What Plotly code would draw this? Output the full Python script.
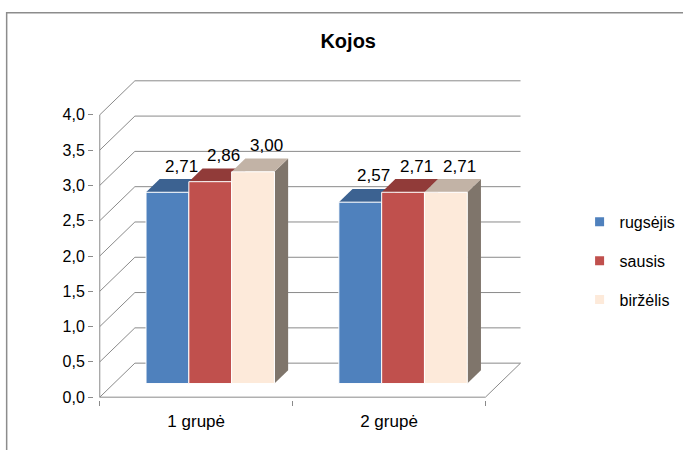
import plotly.graph_objects as go

# Chart data
groups = ["1 grupė", "2 grupė"]
series = ["rugsėjis", "sausis", "biržėlis"]
rugsejis = [2.71, 2.57]
sausis = [2.86, 2.71]
birzelis = [3.00, 2.71]
y_ticks = [0.0, 0.5, 1.0, 1.5, 2.0, 2.5, 3.0, 3.5, 4.0]

series_values = [rugsejis, sausis, birzelis]

# Face colours per series: front, top, side
front_col = ["#4F81BD", "#C0504D", "#FDEADA"]
top_col = ["#3C6291", "#913B39", "#C2B3A6"]
side_col = ["#2F4C72", "#72302E", "#7F756B"]

# Oblique projection: one full unit of depth shifts x by DX and y by DY
DX = 0.182
DY = 0.482
D0, D1 = 0.40, 0.79          # front and back depth of the bars
BAR_W = 0.222
GRID = "#8A8A8A"
FONT = "Liberation Sans, Arial, sans-serif"

fig = go.Figure()


def poly(xs, ys, color, line_color=None, width=0):
    fig.add_trace(go.Scatter(
        x=xs + [xs[0]], y=ys + [ys[0]], mode="lines", fill="toself",
        fillcolor=color,
        line=dict(color=line_color or color, width=width),
        hoverinfo="skip", showlegend=False))


def line(xs, ys):
    fig.add_trace(go.Scatter(x=xs, y=ys, mode="lines",
                             line=dict(color=GRID, width=1),
                             hoverinfo="skip", showlegend=False))


# Walls: gridlines run along the left wall and across the back wall
for v in y_ticks:
    line([0, DX, len(groups) + DX], [v, v + DY, v + DY])
line([len(groups), len(groups) + DX], [0, DY])
line([0, len(groups)], [0, 0])
line([0, 0], [0, y_ticks[-1]])

# Bars: side, top and front faces, drawn left to right
sx, sy = D0 * DX, D0 * DY
ex, ey = D1 * DX, D1 * DY
annotations = []
for gi in range(len(groups)):
    center = gi + 0.5
    for si, vals in enumerate(series_values):
        v = vals[gi]
        xl = center + (si - 1.5) * BAR_W
        xr = xl + BAR_W
        poly([xr + sx, xr + ex, xr + ex, xr + sx],
             [sy, ey, ey + v, sy + v], side_col[si])
        poly([xl + sx, xr + sx, xr + ex, xl + ex],
             [sy + v, sy + v, ey + v, ey + v], top_col[si])
        poly([xl + sx, xr + sx, xr + sx, xl + sx],
             [sy, sy, sy + v, sy + v], front_col[si], "white", 1)
        annotations.append(dict(
            x=(xl + xr) / 2 + ex, y=ey + v, xref="x", yref="y",
            text=f"{v:.2f}".replace(".", ","), showarrow=False,
            yanchor="middle", yshift=13,
            font=dict(family=FONT, size=17, color="black")))

# Legend entries
for si, name in enumerate(series):
    fig.add_trace(go.Scatter(
        x=[None], y=[None], mode="markers", name=name, legendgroup=name,
        marker=dict(symbol="square", size=9, color=front_col[si])))

# Outer chart frame
L, T, W, H = 94.2, 76.2, 429.3, 323.6


def px_x(p):
    return (p - L) / W


def px_y(p):
    return (T + H - p) / H


fig.add_shape(type="rect", xref="paper", yref="paper",
              x0=px_x(7), y0=px_y(13), x1=px_x(700), y1=px_y(470),
              line=dict(color="#8C8C8C", width=1.5), fillcolor="rgba(0,0,0,0)")

fig.update_layout(
    width=683, height=450,
    margin=dict(l=L, r=683 - L - W, t=T, b=450 - T - H, autoexpand=False),
    paper_bgcolor="white", plot_bgcolor="white",
    separators=",.",
    title=dict(text="<b>Kojos</b>", x=px_x(348), xanchor="center",
               xref="paper", y=1 - 41 / 450, yanchor="middle",
               font=dict(family=FONT, size=20, color="black")),
    font=dict(family=FONT, size=16, color="black"),
    annotations=annotations,
    showlegend=True,
    legend=dict(x=px_x(579), y=px_y(205), xanchor="left", yanchor="top",
                traceorder="grouped", tracegroupgap=15,
                font=dict(family=FONT, size=16, color="black"),
                bgcolor="rgba(0,0,0,0)"),
    xaxis=dict(range=[-0.03, 2.2], showgrid=False, zeroline=False,
               showline=False, tickmode="array",
               tickvals=[g + 0.5 for g in range(len(groups))],
               ticktext=groups, ticks="outside", ticklen=6,
               tickcolor="rgba(0,0,0,0)",
               tickfont=dict(family=FONT, size=17, color="black"),
               minor=dict(tickmode="array",
                          tickvals=list(range(len(groups) + 1)),
                          ticks="outside", ticklen=5, tickcolor=GRID,
                          showgrid=False),
               fixedrange=True),
    yaxis=dict(range=[-0.04, 4.55], showgrid=False, zeroline=False,
               showline=False, tickmode="array", tickvals=y_ticks,
               tickformat=".1f", ticks="outside", ticklen=5,
               tickcolor=GRID,
               tickfont=dict(family=FONT, size=16, color="black"),
               fixedrange=True),
)

fig.write_html("out.html")
